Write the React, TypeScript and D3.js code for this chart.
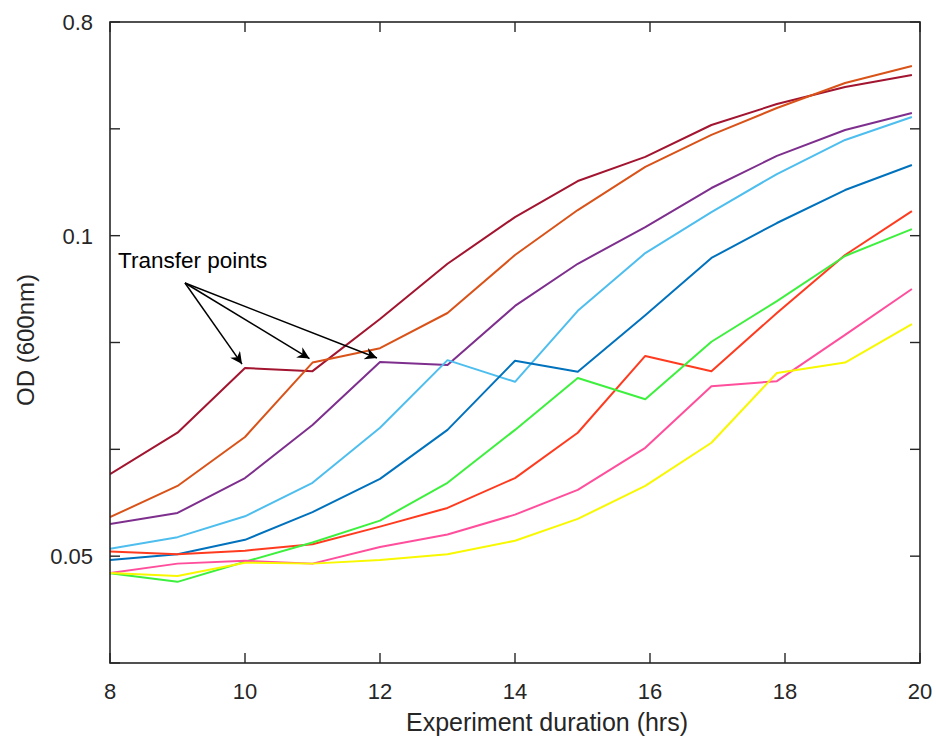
import React from 'react';
import * as d3 from 'd3';

// Sampling times (hours) shared by every culture
const hours = [8, 9, 10, 11, 12, 13, 14, 14.93, 15.93, 16.91, 17.88, 18.89, 19.88];

// OD600 readings for each culture, in transfer order
const odDarkRed = [0.0597, 0.0653, 0.0751, 0.0746, 0.0835, 0.0941, 0.1198, 0.1702, 0.2152, 0.2936, 0.36, 0.425, 0.4776];
const odOrange = [0.0544, 0.0582, 0.0647, 0.076, 0.0784, 0.0846, 0.0959, 0.1283, 0.1952, 0.2666, 0.3463, 0.4418, 0.5214];
const odPurple = [0.0536, 0.0549, 0.0592, 0.0664, 0.0761, 0.0756, 0.0859, 0.0941, 0.1087, 0.159, 0.2173, 0.2798, 0.3299];
const odSky = [0.0508, 0.0521, 0.0545, 0.0586, 0.066, 0.0764, 0.0729, 0.085, 0.0963, 0.1258, 0.1822, 0.2538, 0.3174];
const odBlue = [0.0496, 0.0502, 0.0518, 0.055, 0.0591, 0.0657, 0.0763, 0.0745, 0.0842, 0.0953, 0.1131, 0.1559, 0.199];
const odRed = [0.0505, 0.0502, 0.0506, 0.0513, 0.0533, 0.0555, 0.0592, 0.0653, 0.0771, 0.0746, 0.0846, 0.0959, 0.127];
const odGreen = [0.0482, 0.0473, 0.0494, 0.0515, 0.054, 0.0586, 0.0657, 0.0735, 0.0702, 0.0795, 0.0868, 0.0957, 0.1066];
const odPink = [0.0482, 0.0492, 0.0495, 0.0492, 0.051, 0.0524, 0.0547, 0.0577, 0.0632, 0.0722, 0.073, 0.0807, 0.0891];
const odYellow = [0.0482, 0.0479, 0.0493, 0.0492, 0.0496, 0.0502, 0.0517, 0.0542, 0.0582, 0.0639, 0.0743, 0.076, 0.0826];

const seriesValues = [odDarkRed, odOrange, odPurple, odSky, odBlue, odRed, odGreen, odPink, odYellow];
const seriesColors = ['#a2142f', '#d95319', '#7e2f8e', '#4dbeee', '#0072bd', '#ff3b1f', '#3ef03e', '#ff4f9c', '#f8f800'];

// Cultures marked as transfer points: [series index, sample index]
const transferPoints = [[0, 2], [1, 3], [2, 4]];

const xTicks = [8, 10, 12, 14, 16, 18, 20];
const yTickLabels = ['0.8', '', '0.1', '', '', '0.05', ''];

export default function App() {
  const W = 936;
  const H = 742;
  const left = 110;
  const right = 920;
  const top = 22;
  const bottom = 663;
  const h = bottom - top;
  const axisColor = '#262626';
  const font = '"Liberation Sans", Arial, sans-serif';

  const x = d3.scaleLinear().domain([8, 20]).range([left, right]);
  const y = d3
    .scaleLog()
    .domain([0.05, 0.1, 0.8])
    .range([top + (h * 5) / 6, top + (h * 2) / 6, top]);
  const yTickVals = d3.range(7).map((i) => y.invert(top + (i * h) / 6));

  const line = d3
    .line<number>()
    .x((_, i) => x(hours[i]))
    .y((d) => y(d));

  const origin = [185, 283];
  const tickLen = 10;

  return (
    <svg
      width={W}
      height={H}
      style={{ position: 'absolute', left: 0, top: 0, background: '#fff' }}
    >
      <defs>
        <marker
          id="arrowHead"
          viewBox="0 0 10 10"
          refX={10}
          refY={5}
          markerWidth={16}
          markerHeight={12}
          markerUnits="userSpaceOnUse"
          orient="auto"
        >
          <path d="M0,0 L10,5 L0,10 L3,5 Z" fill="#000" />
        </marker>
        <clipPath id="plotArea">
          <rect x={left} y={top} width={right - left} height={h} />
        </clipPath>
      </defs>

      <g clipPath="url(#plotArea)">
        {seriesValues.map((vals, k) => (
          <path
            key={k}
            d={line(vals) ?? ''}
            fill="none"
            stroke={seriesColors[k]}
            strokeWidth={2}
            strokeLinejoin="round"
          />
        ))}
      </g>

      {/* frame */}
      <rect
        x={left}
        y={top}
        width={right - left}
        height={h}
        fill="none"
        stroke={axisColor}
        strokeWidth={1.6}
      />

      {/* x ticks */}
      {xTicks.map((t) => (
        <g key={'x' + t}>
          <line x1={x(t)} x2={x(t)} y1={bottom} y2={bottom - tickLen} stroke={axisColor} strokeWidth={1.4} />
          <line x1={x(t)} x2={x(t)} y1={top} y2={top + tickLen} stroke={axisColor} strokeWidth={1.4} />
          <text
            x={x(t)}
            y={699}
            textAnchor="middle"
            fontFamily={font}
            fontSize={22}
            fill={axisColor}
          >
            {t}
          </text>
        </g>
      ))}

      {/* y ticks */}
      {yTickVals.map((v, i) => (
        <g key={'y' + i}>
          <line x1={left} x2={left + tickLen} y1={y(v)} y2={y(v)} stroke={axisColor} strokeWidth={1.4} />
          <line x1={right} x2={right - tickLen} y1={y(v)} y2={y(v)} stroke={axisColor} strokeWidth={1.4} />
          {yTickLabels[i] && (
            <text
              x={93}
              y={y(v)}
              dy="0.36em"
              textAnchor="end"
              fontFamily={font}
              fontSize={22}
              fill={axisColor}
            >
              {yTickLabels[i]}
            </text>
          )}
        </g>
      ))}

      {/* axis titles */}
      <text
        x={547}
        y={731}
        textAnchor="middle"
        fontFamily={font}
        fontSize={25}
        fill={axisColor}
      >
        Experiment duration (hrs)
      </text>
      <text
        transform={`translate(34, 340) rotate(-90)`}
        textAnchor="middle"
        fontFamily={font}
        fontSize={24}
        fill={axisColor}
      >
        OD (600nm)
      </text>

      {/* annotation */}
      <text x={118} y={268} fontFamily={font} fontSize={22.5} fill="#000">
        Transfer points
      </text>
      {transferPoints.map(([s, i]) => (
        <line
          key={'a' + s}
          x1={origin[0]}
          y1={origin[1]}
          x2={x(hours[i]) - 3}
          y2={y(seriesValues[s][i]) - 4}
          stroke="#000"
          strokeWidth={1.5}
          markerEnd="url(#arrowHead)"
        />
      ))}
    </svg>
  );
}
